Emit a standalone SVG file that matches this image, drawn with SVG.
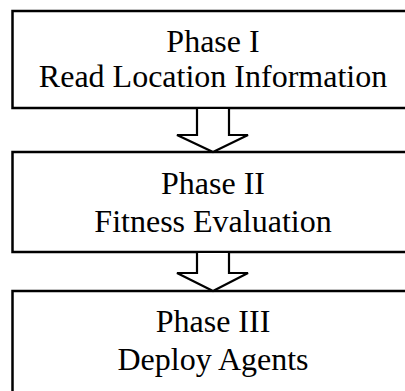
<svg xmlns="http://www.w3.org/2000/svg" width="405" height="391" viewBox="0 0 405 391">
<style>
.box{fill:#fff;stroke:#000;stroke-width:2.5}
.arr{fill:#fff;stroke:#000;stroke-width:2.2;stroke-linejoin:miter}
text{font-family:"Liberation Serif","Times New Roman",serif;font-size:32px;fill:#000;text-anchor:middle}
</style>
<rect width="405" height="391" fill="#fff"/>
<g id="phase1">
<rect class="box" x="12.5" y="11" width="404" height="97"/>
<text x="213" y="52">Phase I</text>
<text x="213" y="87">Read Location Information</text>
</g>
<g id="phase2">
<rect class="box" x="12.5" y="152" width="404" height="100"/>
<text x="213" y="194">Phase II</text>
<text x="213" y="232">Fitness Evaluation</text>
</g>
<g id="phase3">
<rect class="box" x="12.5" y="291" width="404" height="120"/>
<text x="213" y="332">Phase III</text>
<text x="213" y="370">Deploy Agents</text>
</g>
<g id="connectors">
<polyline class="arr" points="197,109 197,135 177,135 213,152 248,135 229,135 229,109"/>
<polyline class="arr" points="197,253 197,273 177,273 213,291 248,273 229,273 229,253"/>
</g>
</svg>
